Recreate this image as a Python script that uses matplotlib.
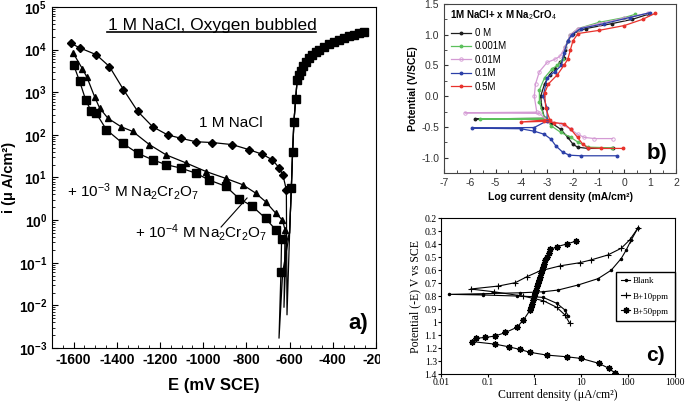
import matplotlib
matplotlib.use('Agg')
import matplotlib.pyplot as plt
from matplotlib.ticker import MultipleLocator, LogLocator, NullFormatter, NullLocator, FuncFormatter
from matplotlib.lines import Line2D
from matplotlib.transforms import Bbox

plt.rcParams['font.family'] = 'Liberation Sans'
plt.rcParams['axes.unicode_minus'] = False
plt.rcParams['mathtext.fontset'] = 'custom'
plt.rcParams['mathtext.rm'] = 'Liberation Sans'
plt.rcParams['mathtext.it'] = 'Liberation Sans:italic'
plt.rcParams['mathtext.bf'] = 'Liberation Sans:bold'

# ---- panel a : E (mV SCE) vs i (uA/cm2) ----
e_nacl = [-1611, -1572, -1495, -1434, -1369, -1303, -1234, -1165, -1103, -1034,
          -957, -865, -788, -726, -680, -649, -631, -615]
i_nacl = [14000, 11000, 7600, 4000, 1150, 355, 155, 100, 83, 69,
          66, 59, 45, 35, 26, 17, 11.5, 5.1]
e_cr3 = [-1603, -1560, -1538, -1503, -1480, -1441, -1380, -1326, -1249, -1172,
         -1080, -987, -895, -818, -757, -711, -664, -633, -621]
i_cr3 = [8500, 3600, 2240, 790, 430, 245, 155, 120, 59, 34,
         22, 13.8, 9.5, 6.8, 4.3, 2.7, 1.45, 1.0, 0.59]
e_cr4 = [-1600, -1572, -1544, -1518, -1495, -1448, -1372, -1303, -1234, -1172,
         -1103, -1034, -972, -895, -834, -772, -711, -664, -637, -640]
i_cr4 = [4400, 1800, 660, 355, 320, 132, 63, 37, 26, 20,
         16.6, 12.6, 8.7, 6.2, 3.2, 2.1, 1.1, 0.59, 0.37, 0.062]
# thin spikes near Ecorr
e_dip_nacl = [-612]
i_dip_nacl = [0.006]
e_dip_cr3 = [-626, -615]
i_dip_cr3 = [0.009, 0.3]
e_dip_cr4 = [-649, -632]
i_dip_cr4 = [0.0017, 0.06]
# anodic branch (all three overlap)
e_anod = [-600, -592, -586, -580, -572, -565, -557, -549, -537, -526, -511, -496,
          -480, -465, -442, -419, -395, -372, -349, -326, -303, -280, -257]
i_anod = [0.5, 5.6, 40, 204, 676, 1950, 2510, 3090, 4170, 5250, 6460, 7590,
          8710, 10000, 11500, 13200, 15100, 17000, 18600, 20400, 22400, 24500, 26300]

# ---- panel b : log i (mA/cm2) vs E (V/SCE) ----
b_labels = ['0 M', '0.001M', '0.01M', '0.1M', '0.5M']
b_colors = ['#1e1e1e', '#5cc05c', '#d49ad4', '#2c40a8', '#e8322c']
x_0m = [-0.46, -1.43, -1.82, -2.0, -2.2, -2.47, -2.85, -3.0, -5.8, -3.1, -3.2, -3.25,
        -3.1, -2.9, -2.7, -2.5, -2.35, -2.3, -2.2, -2.0, -1.5, -0.5, 0.3, 0.9]
y_0m = [-0.85, -0.85, -0.83, -0.78, -0.67, -0.54, -0.43, -0.38, -0.37, -0.36, -0.2, 0.0,
        0.2, 0.35, 0.45, 0.55, 0.62, 0.75, 0.9, 1.02, 1.1, 1.18, 1.25, 1.33]
x_001 = [-0.5, -1.4, -1.8, -2.08, -2.47, -2.85, -3.0, -5.6, -3.1, -3.3, -3.3, -3.1,
         -2.8, -2.6, -2.4, -2.3, -2.1, -1.8, -1.0, 0.0, 0.4]
y_001 = [-0.84, -0.83, -0.75, -0.67, -0.59, -0.48, -0.38, -0.37, -0.36, -0.1, 0.1, 0.3,
         0.45, 0.5, 0.6, 0.8, 1.0, 1.1, 1.2, 1.28, 1.33]
x_01 = [-0.46, -1.17, -1.56, -1.82, -2.08, -2.47, -2.98, -3.3, -6.2, -3.4, -3.5, -3.45,
        -3.3, -3.0, -2.7, -2.5, -2.3, -2.1, -1.8, -1.0, 0.0, 0.9]
y_01 = [-0.69, -0.69, -0.67, -0.62, -0.54, -0.45, -0.40, -0.28, -0.27, -0.26, 0.0, 0.2,
        0.4, 0.55, 0.6, 0.65, 0.8, 1.0, 1.1, 1.18, 1.27, 1.35]
x_1 = [-0.29, -1.69, -2.14, -2.40, -2.66, -2.85, -3.11, -3.5, -4.02, -5.9, -3.5, -3.0,
       -3.0, -3.15, -3.0, -2.7, -2.45, -2.35, -2.2, -2.05, -1.7, -0.8, 0.2, 1.0]
y_1 = [-0.97, -0.97, -0.96, -0.91, -0.81, -0.70, -0.62, -0.57, -0.53, -0.52, -0.51, -0.4,
       -0.2, 0.0, 0.3, 0.4, 0.5, 0.7, 0.9, 1.0, 1.1, 1.18, 1.28, 1.36]
x_5 = [-0.07, -0.91, -1.43, -1.62, -1.82, -2.08, -2.34, -2.73, -3.11, -4.0, -2.9, -3.05,
       -3.1, -2.95, -2.6, -2.35, -2.2, -2.1, -2.0, -1.8, -1.0, 0.0, 0.7, 1.2]
y_5 = [-0.85, -0.85, -0.84, -0.78, -0.67, -0.54, -0.45, -0.43, -0.41, -0.42, -0.38, -0.2,
       0.05, 0.2, 0.35, 0.5, 0.6, 0.75, 0.9, 1.02, 1.07, 1.15, 1.25, 1.35]

# ---- panel c : current density (uA/cm2) vs potential (-E) ----
blank_i = [5.3, 4.5, 3.0, 1.55, 0.95, 0.42, 0.08, 0.015,
           0.08, 0.5, 1.55, 3.2, 8.6, 23, 44, 72, 92, 118, 163]
blank_e = [0.953, 0.907, 0.855, 0.81, 0.804, 0.799, 0.791, 0.786,
           0.781, 0.774, 0.766, 0.753, 0.714, 0.665, 0.60, 0.51, 0.445, 0.367, 0.277]
b10_i = [5.7, 4.5, 3.0, 1.55, 0.58, 0.134, 0.043,
         0.17, 0.39, 0.69, 1.3, 3.6, 9.4, 16.6, 37, 72, 109, 163]
b10_e = [1.01, 0.945, 0.886, 0.835, 0.80, 0.766, 0.745,
         0.722, 0.696, 0.65, 0.606, 0.566, 0.542, 0.52, 0.483, 0.431, 0.367, 0.277]
b50_i = [7.9, 4.9, 3.1, 2.2, 2.0, 1.85, 1.72, 1.6, 1.5, 1.43, 1.36, 1.3, 1.25, 1.2,
         1.14, 1.09, 1.04, 1.0, 0.95, 0.9, 0.85, 0.81, 0.58, 0.42, 0.24, 0.145, 0.089,
         0.055, 0.046, 0.145, 0.28, 0.48, 0.81, 1.83, 4.9, 10, 24, 39, 52]
b50_e = [0.375, 0.398, 0.418, 0.44, 0.47, 0.50, 0.525, 0.55, 0.575, 0.60, 0.625, 0.65,
         0.675, 0.70, 0.725, 0.75, 0.775, 0.80, 0.83, 0.86, 0.885, 0.907, 0.984, 1.04,
         1.08, 1.107, 1.118, 1.125, 1.15, 1.17, 1.19, 1.21, 1.233, 1.254, 1.267, 1.28,
         1.318, 1.356, 1.39]

fig = plt.figure(figsize=(6.85, 4.01), dpi=100)

# ================= a) =================
ax = fig.add_axes([0.0759, 0.1322, 0.473, 0.8504])
curves = [(e_nacl, i_nacl, e_dip_nacl, i_dip_nacl, 'D', 4.5),
          (e_cr3, i_cr3, e_dip_cr3, i_dip_cr3, '^', 5),
          (e_cr4, i_cr4, e_dip_cr4, i_dip_cr4, 's', 6)]
for e, i, ed, idp, mk, ms in curves:
    ax.plot(e + ed + e_anod, i + idp + i_anod, color='k', lw=0.9)
    ax.plot(e + e_anod[1:], i + i_anod[1:], ls='none', marker=mk, ms=ms, color='k')
ax.set_yscale('log')
ax.set_xlim(-1700, -200)
ax.set_ylim(1e-3, 1e5)
ax.set_xticks(range(-1600, -199, 200))
ax.xaxis.set_minor_locator(MultipleLocator(50))
ax.yaxis.set_major_locator(LogLocator(base=10, numticks=20))
ax.yaxis.set_minor_locator(LogLocator(base=10, subs=range(2, 10), numticks=20))
ax.yaxis.set_minor_formatter(NullFormatter())
ax.tick_params(which='both', direction='in', labelsize=10)
ax.tick_params(which='major', length=4)
ax.tick_params(which='minor', length=2)
for lab in ax.get_xticklabels() + ax.get_yticklabels():
    lab.set_fontweight('bold')
ax.set_xlabel('E (mV SCE)', fontsize=12, fontweight='bold', labelpad=8)
ax.set_ylabel('i (μ A/cm²)', fontsize=10.5, fontweight='bold', labelpad=2)

ax.text(0.494, 0.947, '1 M NaCl, Oxygen bubbled', transform=ax.transAxes,
        ha='center', va='center', fontsize=12.5)
ax.plot([0.17, 0.815], [0.927, 0.927], transform=ax.transAxes, color='k', lw=1.2)
ax.text(-1018, 190, '1 M NaCl', fontsize=11, va='center')
ax.text(-1632, 4.6, r'+ 10$^{-3}$ M Na$_2$Cr$_2$O$_7$', fontsize=11, va='center')
ax.text(-1318, 0.5, r'+ 10$^{-4}$ M Na$_2$Cr$_2$O$_7$', fontsize=11, va='center')
ax.plot([-917, -797], [0.69, 3.3], color='k', lw=0.8)
ax.text(0.944, 0.073, 'a)', transform=ax.transAxes, ha='center', va='center',
        fontsize=16, fontweight='bold')

# ================= b) =================
bx = fig.add_axes([0.6482, 0.5686, 0.3387, 0.4214])
b_x = [x_0m, x_001, x_01, x_1, x_5]
b_y = [y_0m, y_001, y_01, y_1, y_5]
handles = []
for xs, ys, c, lab in zip(b_x, b_y, b_colors, b_labels):
    if lab == '0.01M':
        kw = dict(marker='o', ms=2.5, mfc='none', mew=0.6)
    else:
        kw = dict(marker='o', ms=1.8)
    bx.plot(xs, ys, color=c, lw=0.9, **kw)
    handles.append(Line2D([], [], color=c, lw=0.9, **kw))
bx.set_xlim(-7, 2)
bx.set_ylim(-1.25, 1.5)
bx.xaxis.set_major_locator(MultipleLocator(1))
bx.xaxis.set_minor_locator(MultipleLocator(0.5))
bx.yaxis.set_major_locator(MultipleLocator(0.5))
bx.yaxis.set_minor_locator(MultipleLocator(0.25))
bx.yaxis.set_major_formatter(FuncFormatter(lambda v, p: '%.1f' % v))
bx.tick_params(which='both', direction='in', labelsize=7.5, colors='#333333')
bx.tick_params(which='major', length=3)
bx.tick_params(which='minor', length=2)
for s in bx.spines.values():
    s.set_color('#444444')
bx.set_xlabel('Log current density (mA/cm²)', fontsize=7.5, fontweight='bold', labelpad=3)
bx.set_ylabel('Potential (V/SCE)', fontsize=7.5, fontweight='bold', labelpad=2)
bx.text(0.026, 0.935, r'1M NaCl+ x M Na$_2$CrO$_4$', transform=bx.transAxes,
        fontsize=7, fontweight='bold', va='center')
bx.legend(handles, b_labels, loc='upper left', bbox_to_anchor=(0.02, 0.87),
          frameon=False, fontsize=7, handlelength=2.1, labelspacing=0.35,
          handletextpad=0.4, borderpad=0.2, borderaxespad=0)
bx.text(0.918, 0.118, 'b)', transform=bx.transAxes, ha='center', va='center',
        fontsize=16, fontweight='bold')

# ================= c) =================
cx = fig.add_axes([0.6438, 0.0673, 0.341, 0.3883])
cx.plot(blank_i, blank_e, color='k', lw=0.8, marker='o', ms=1.5, label='Blank')
cx.plot(b10_i, b10_e, color='k', lw=0.8, marker='+', ms=5, mew=0.8, label='B+10ppm')
cx.plot(b50_i, b50_e, color='k', lw=0.8, marker=(8, 2, 0), ms=4.5, mew=1.0, label='B+50ppm')
cx.set_xscale('log')
cx.set_xlim(0.01, 1000)
cx.set_ylim(1.4, 0.2)
cx.set_yticks([0.2 + 0.1 * k for k in range(13)])
cx.yaxis.set_major_formatter(FuncFormatter(lambda v, p: '%g' % round(v, 2)))
cx.xaxis.set_major_locator(LogLocator(base=10, numticks=10))
cx.xaxis.set_minor_locator(NullLocator())
cx.xaxis.set_major_formatter(FuncFormatter(lambda v, p: '%g' % v))
cx.tick_params(which='both', direction='out', length=2, labelsize=7, pad=1)
for lab in cx.get_xticklabels() + cx.get_yticklabels():
    lab.set_family('Liberation Serif')
cx.set_xlabel('Current density (μA/cm²)', fontsize=8.5, family='Liberation Serif', labelpad=1)
cx.set_ylabel('Potential (-E) V vs SCE', fontsize=8.5, family='Liberation Serif', labelpad=2)
cx.legend(loc='upper right', bbox_to_anchor=(1.0, 0.657), borderaxespad=0,
          prop={'family': 'Liberation Serif', 'size': 6.5}, handlelength=1.0,
          handletextpad=0.3, labelspacing=0.75, fancybox=False, edgecolor='k',
          framealpha=1, borderpad=0.6)
cx.text(0.92, 0.122, 'c)', transform=cx.transAxes, ha='center', va='center',
        fontsize=15, fontweight='bold')

# cut the "-200" label at the panel border like the original
fig.canvas.draw()
for lab in ax.get_xticklabels():
    lab.set_clip_on(True)
    lab.set_clip_box(Bbox.from_extents(0, 0, 380, 401))

fig.savefig('out.png', dpi=100)
